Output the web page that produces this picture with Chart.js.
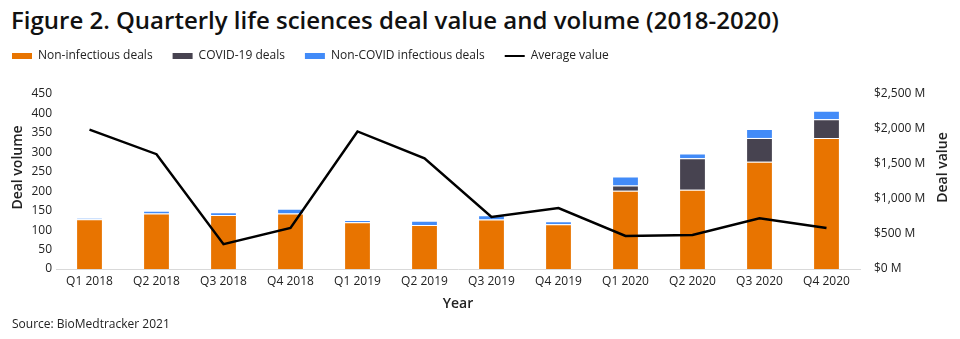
<!DOCTYPE html>
<html>
<head>
<meta charset="utf-8">
<script src="https://cdn.jsdelivr.net/npm/chart.js@4.4.0/dist/chart.umd.min.js"></script>
<style>
  body { margin: 0; background: #fff; font-family: "Open Sans", sans-serif; color: #222; }
  #wrap { position: relative; width: 960px; height: 339px; overflow: hidden; }
  #title { position: absolute; left: 11px; top: 3px; font-size: 24px; font-weight: 600; color: #111; white-space: nowrap; }
  #source { position: absolute; left: 12px; top: 315px; font-size: 12px; color: #222; }
  #box { position: absolute; left: -10px; top: 30px; width: 970px; height: 286px; }
</style>
</head>
<body>
<div id="wrap">
  <div id="title">Figure 2. Quarterly life sciences deal value and volume (2018-2020)</div>
  <div id="box"><canvas id="chart"></canvas></div>
  <div id="source">Source: BioMedtracker 2021</div>
</div>
<script>
const quarters = ["Q1 2018", "Q2 2018", "Q3 2018", "Q4 2018", "Q1 2019", "Q2 2019",
  "Q3 2019", "Q4 2019", "Q1 2020", "Q2 2020", "Q3 2020", "Q4 2020"];
const nonInfectious = [128, 143, 139, 143, 120, 113, 127, 115, 201, 204, 276, 337];
const covidDeals = [0, 0, 0, 0, 0, 0, 0, 0, 14, 81, 61, 48];
const nonCovidInfectious = [3, 7, 7, 12, 6, 11, 11, 8, 23, 12, 23, 22];
const averageValue = [1990, 1640, 355, 587, 1965, 1581, 743, 871, 473, 487, 724, 587];
const volumeTicks = [0, 50, 100, 150, 200, 250, 300, 350, 400, 450];
const valueTicks = [0, 500, 1000, 1500, 2000, 2500];

const font = { family: "Open Sans", size: 12 };

// leave a gap under the legend, like the original
const legendGap = {
  id: "legendGap",
  beforeInit(chart) {
    const fit = chart.legend.fit;
    chart.legend.fit = function () {
      fit.call(this);
      this.height += 22;
    };
  },
};

// rotated axis titles, sitting a bit above the middle as in the original
const axisTitles = {
  id: "axisTitles",
  afterDraw(chart) {
    const ctx = chart.ctx;
    const area = chart.chartArea;
    const midY = (area.top + area.bottom) / 2 - 14;
    ctx.save();
    ctx.fillStyle = "#222";
    ctx.font = "600 14px 'Open Sans'";
    ctx.textAlign = "center";
    ctx.textBaseline = "middle";
    [[chart.scales.y.left + 26, "Deal volume"], [chart.scales.y1.right - 17, "Deal value"]].forEach(([x, text]) => {
      ctx.save();
      ctx.translate(x, midY);
      ctx.rotate(-Math.PI / 2);
      ctx.fillText(text, 0, 0);
      ctx.restore();
    });
    ctx.restore();
  },
};

new Chart(document.getElementById("chart"), {
  data: {
    labels: quarters,
    datasets: [
      { type: "bar", label: "Non-infectious deals", data: nonInfectious, backgroundColor: "#e87400",
        borderColor: "rgba(255,255,255,0.35)", borderWidth: 1, yAxisID: "y", order: 1 },
      { type: "bar", label: "COVID-19 deals", data: covidDeals, backgroundColor: "#474350",
        borderColor: "rgba(255,255,255,0.35)", borderWidth: 1, yAxisID: "y", order: 1 },
      { type: "bar", label: "Non-COVID infectious deals", data: nonCovidInfectious, backgroundColor: "#428bf8",
        borderColor: "rgba(255,255,255,0.35)", borderWidth: 1, yAxisID: "y", order: 1 },
      { type: "line", label: "Average value", data: averageValue, borderColor: "#000", backgroundColor: "#000",
        borderWidth: 2.5, pointRadius: 0, tension: 0, yAxisID: "y1", order: 0 },
    ],
  },
  plugins: [legendGap, axisTitles],
  options: {
    responsive: true,
    maintainAspectRatio: false,
    animation: false,
    layout: { padding: { top: 0, right: 0, left: 2, bottom: 0 } },
    datasets: { bar: { categoryPercentage: 0.8, barPercentage: 0.5 } },
    plugins: {
      tooltip: { enabled: false },
      legend: {
        position: "top",
        align: "start",
        labels: {
          font: { family: "Open Sans", size: 12 },
          color: "#222",
          padding: 20,
          usePointStyle: true,
          pointStyleWidth: 20,
          boxHeight: 6,
          generateLabels(chart) {
            const items = Chart.defaults.plugins.legend.labels.generateLabels(chart);
            items.sort((a, b) => a.datasetIndex - b.datasetIndex);
            items.forEach((it) => {
              if (it.datasetIndex === 3) { it.pointStyle = "line"; it.lineWidth = 2; it.strokeStyle = "#000"; }
              else { it.pointStyle = "rect"; it.lineWidth = 0; }
            });
            return items;
          },
        },
      },
    },
    scales: {
      x: {
        stacked: true,
        grid: { display: false, drawTicks: false },
        border: { display: true, color: "#d9d9d9", width: 1 },
        ticks: { font, color: "#222", maxRotation: 0, padding: 5 },
        title: { display: true, text: "Year", font: { family: "Open Sans", size: 14, weight: "600" }, color: "#222", padding: { top: 3 } },
        afterFit(scale) { scale.height = 47; },
      },
      y: {
        stacked: true,
        position: "left",
        min: 0,
        max: 450,
        afterBuildTicks(scale) { scale.ticks = volumeTicks.map((v) => ({ value: v })); },
        grid: { display: false, drawTicks: false },
        border: { display: false },
        ticks: { font, color: "#222", padding: 4 },
        afterFit(scale) { scale.width = 64; },
      },
      y1: {
        position: "right",
        min: 0,
        max: 2500,
        afterBuildTicks(scale) { scale.ticks = valueTicks.map((v) => ({ value: v })); },
        grid: { display: false, drawTicks: false },
        border: { display: false },
        ticks: { font, color: "#222", padding: 14,
          callback: (v) => "$" + v.toLocaleString("en-US") + " M" },
        afterFit(scale) { scale.width = 100; },
      },
    },
  },
});
</script>
</body>
</html>
